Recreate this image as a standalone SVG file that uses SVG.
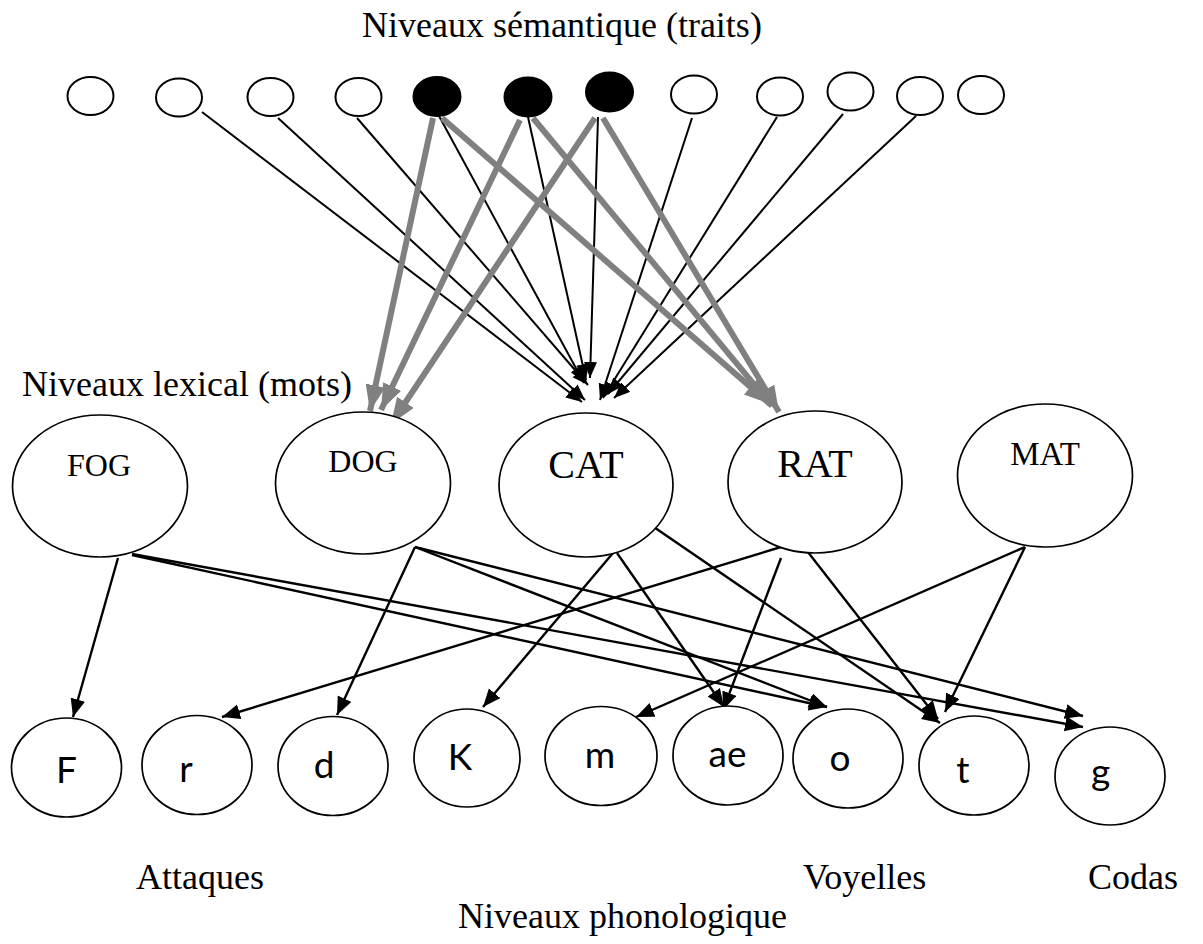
<svg xmlns="http://www.w3.org/2000/svg" width="1203" height="944" viewBox="0 0 1203 944">
<style>
.bg{fill:#fff}
.sem{fill:#fff;stroke:#000;stroke-width:2}
.semb{fill:#000;stroke:#000;stroke-width:2}
.lex{fill:#fff;stroke:#000;stroke-width:1.7}
.ph{fill:#fff;stroke:#000;stroke-width:1.7}
.lbl{font-family:"Liberation Serif","Times New Roman",serif;font-size:36px;fill:#000}
.wd{font-family:"Liberation Serif","Times New Roman",serif;fill:#000;text-anchor:middle}
.pt{font-family:Lato,"Liberation Sans",sans-serif;font-size:37px;fill:#000;text-anchor:middle}
.bk{stroke:#000;stroke-width:2.4;fill:none;marker-end:url(#ab)}
.bk2{stroke:#000;stroke-width:2;fill:none;marker-end:url(#as)}
.gr{stroke:#808080;stroke-width:6;fill:none;marker-end:url(#ag)}
</style>
<defs>
<marker id="ab" markerUnits="userSpaceOnUse" markerWidth="20" markerHeight="16" refX="18" refY="7.5" orient="auto">
<path d="M0,0 L18,7.5 L0,15 z" fill="#000"/>
</marker>
<marker id="as" markerUnits="userSpaceOnUse" markerWidth="18" markerHeight="14" refX="16" refY="6.5" orient="auto">
<path d="M0,0 L16,6.5 L0,13 z" fill="#000"/>
</marker>
<marker id="ag" markerUnits="userSpaceOnUse" markerWidth="28" markerHeight="22" refX="26" refY="10" orient="auto">
<path d="M0,0 L26,10 L0,20 z" fill="#808080"/>
</marker>
</defs>
<rect class="bg" x="0" y="0" width="1203" height="944"/>

<g id="labels">
<text class="lbl" x="362" y="37">Niveaux sémantique (traits)</text>
<text class="lbl" x="22" y="396">Niveaux lexical (mots)</text>
<text class="lbl" x="136" y="889">Attaques</text>
<text class="lbl" x="803" y="889">Voyelles</text>
<text class="lbl" x="1088" y="889">Codas</text>
<text class="lbl" x="458" y="928">Niveaux phonologique</text>
</g>

<g id="connectors">
<!-- semantic to CAT (black) -->
<line class="bk2" x1="202" y1="112" x2="582" y2="402"/>
<line class="bk2" x1="278" y1="118" x2="585" y2="400"/>
<line class="bk2" x1="357" y1="118" x2="588" y2="385"/>
<line class="bk2" x1="439" y1="116" x2="584" y2="383"/>
<line class="bk2" x1="528" y1="117" x2="586" y2="380"/>
<line class="bk2" x1="598" y1="117" x2="590" y2="378"/>
<line class="bk2" x1="692" y1="118" x2="600" y2="400"/>
<line class="bk2" x1="777" y1="117" x2="603" y2="398"/>
<line class="bk2" x1="843" y1="114" x2="608" y2="394"/>
<line class="bk2" x1="916" y1="116" x2="614" y2="398"/>
<!-- gray: black nodes to DOG and RAT -->
<line class="gr" x1="433" y1="118" x2="370" y2="411"/>
<line class="gr" x1="520" y1="120" x2="381" y2="410"/>
<line class="gr" x1="595" y1="118" x2="391" y2="424"/>
<line class="gr" x1="442" y1="118" x2="770" y2="404"/>
<line class="gr" x1="533" y1="118" x2="772" y2="406"/>
<line class="gr" x1="603" y1="118" x2="779" y2="412"/>
<!-- lexical to phonological -->
<line class="bk" x1="118" y1="558" x2="73" y2="717"/>
<line class="bk" x1="132" y1="555" x2="827" y2="707"/>
<line class="bk" x1="132" y1="554" x2="1083" y2="727"/>
<line class="bk" x1="415" y1="547" x2="337" y2="715"/>
<line class="bk" x1="415" y1="547" x2="827" y2="707"/>
<line class="bk" x1="415" y1="547" x2="1083" y2="716"/>
<line class="bk" x1="613" y1="553" x2="483" y2="707"/>
<line class="bk" x1="617" y1="553" x2="724" y2="707"/>
<line class="bk" x1="629" y1="510" x2="940" y2="723"/>
<line class="bk" x1="781" y1="547" x2="222" y2="717"/>
<line class="bk" x1="781" y1="558" x2="723" y2="710"/>
<line class="bk" x1="804" y1="547" x2="938" y2="719"/>
<line class="bk" x1="1025" y1="547" x2="636" y2="717"/>
<line class="bk" x1="1025" y1="547" x2="945" y2="712"/>
</g>

<g id="s1"><ellipse class="sem" cx="90.5" cy="96" rx="23" ry="19"/></g>
<g id="s2"><ellipse class="sem" cx="179" cy="97.5" rx="23" ry="19"/></g>
<g id="s3"><ellipse class="sem" cx="270.5" cy="97" rx="23" ry="19"/></g>
<g id="s4"><ellipse class="sem" cx="358.5" cy="97" rx="23" ry="19"/></g>
<g id="s5"><ellipse class="semb" cx="437" cy="96.5" rx="23.5" ry="19.5"/></g>
<g id="s6"><ellipse class="semb" cx="528" cy="97" rx="23.5" ry="19.5"/></g>
<g id="s7"><ellipse class="semb" cx="609.5" cy="92" rx="23.5" ry="19.5"/></g>
<g id="s8"><ellipse class="sem" cx="694" cy="94.5" rx="23" ry="19"/></g>
<g id="s9"><ellipse class="sem" cx="780" cy="96.5" rx="23" ry="19"/></g>
<g id="s10"><ellipse class="sem" cx="850.5" cy="91.5" rx="23" ry="19"/></g>
<g id="s11"><ellipse class="sem" cx="920" cy="96" rx="23" ry="19"/></g>
<g id="s12"><ellipse class="sem" cx="981" cy="95" rx="23" ry="19"/></g>

<g id="FOG"><ellipse class="lex" cx="100" cy="486" rx="87.5" ry="71"/><text class="wd" x="99" y="476" font-size="32">FOG</text></g>
<g id="DOG"><ellipse class="lex" cx="363" cy="483" rx="87.5" ry="71"/><text class="wd" x="363" y="472" font-size="32">DOG</text></g>
<g id="CAT"><ellipse class="lex" cx="586" cy="485" rx="87" ry="72"/><text class="wd" x="586" y="478" font-size="40">CAT</text></g>
<g id="RAT"><ellipse class="lex" cx="815" cy="482" rx="87" ry="71"/><text class="wd" x="815" y="477" font-size="40">RAT</text></g>
<g id="MAT"><ellipse class="lex" cx="1045" cy="475.5" rx="87.5" ry="71.5"/><text class="wd" x="1045" y="465" font-size="33">MAT</text></g>

<g id="F"><ellipse class="ph" cx="66.5" cy="767.5" rx="55" ry="49.5"/><text class="pt" x="66.5" y="783">F</text></g>
<g id="r"><ellipse class="ph" cx="197" cy="765" rx="55" ry="49.5"/><text class="pt" x="186" y="782">r</text></g>
<g id="d"><ellipse class="ph" cx="333" cy="766" rx="55" ry="49.5"/><text class="pt" x="324" y="778">d</text></g>
<g id="K"><ellipse class="ph" cx="467" cy="758" rx="53" ry="49"/><text class="pt" x="460" y="770">K</text></g>
<g id="m"><ellipse class="ph" cx="601" cy="756" rx="56" ry="49.5"/><text class="pt" x="600" y="768">m</text></g>
<g id="ae"><ellipse class="ph" cx="728" cy="755.5" rx="55" ry="49.5"/><text class="pt" x="727.5" y="767">ae</text></g>
<g id="o"><ellipse class="ph" cx="848" cy="758.5" rx="55" ry="49.5"/><text class="pt" x="840" y="771">o</text></g>
<g id="t"><ellipse class="ph" cx="974" cy="765.5" rx="55" ry="49.5"/><text class="pt" x="963" y="783">t</text></g>
<g id="g"><ellipse class="ph" cx="1110" cy="776" rx="55" ry="49"/><text class="pt" x="1100.5" y="785">g</text></g>
</svg>
